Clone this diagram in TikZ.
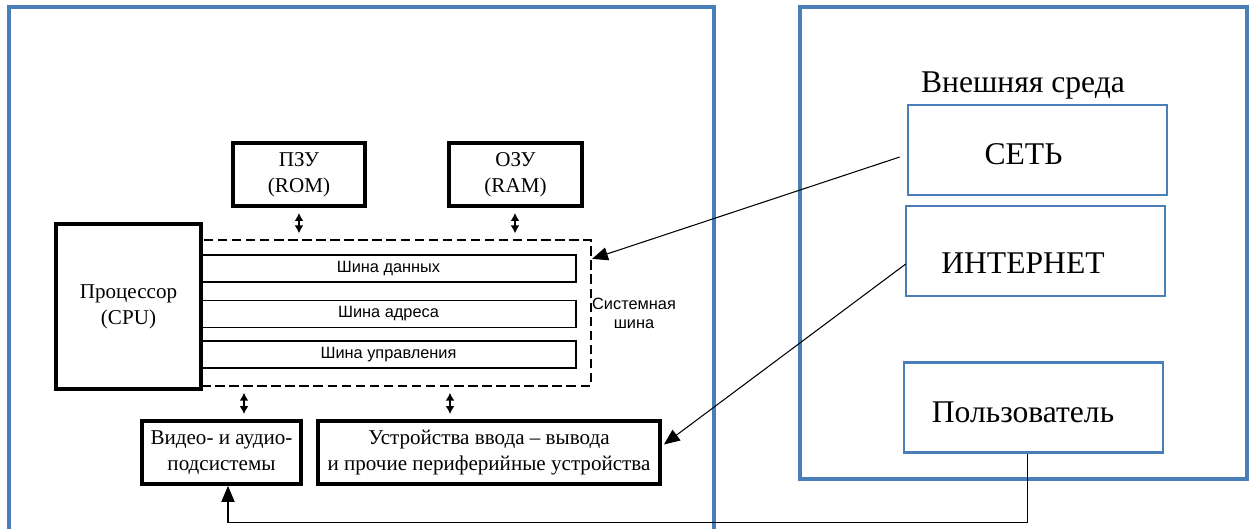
\documentclass[tikz,border=0pt]{standalone}
\usepackage{fontspec}
\setmainfont{Liberation Serif}
\setsansfont{Liberation Sans}
\usetikzlibrary{arrows.meta}
\definecolor{frameblue}{RGB}{74,126,187}

\begin{document}
\begin{tikzpicture}[x=0.02cm,y=-0.02cm]
\useasboundingbox (0,0) rectangle (1253,529);
\draw[frameblue,line width=1.8pt] (9,529) -- (9,7) -- (714,7) -- (714,529);
\draw[frameblue,line width=1.8pt] (800,7) rectangle (1247,479);

\node[draw,dashed,dash pattern=on 5.4pt off 2.6pt,line width=1.3pt,minimum width=7.8cm,minimum height=2.92cm] (bus) at (396,313) {};

\begin{scope}[every node/.style={draw,line width=1pt,font=\sffamily\fontsize{9.3}{10.8}\selectfont,minimum width=7.5cm,minimum height=0.54cm}]
    \node (data) at (388.5,268.5) {Шина данных};
    \node (addr) at (388.5,314) {Шина адреса};
    \node (ctrl) at (388.5,354.5) {Шина управления};
\end{scope}
\node[font=\sffamily\fontsize{9.3}{10.8}\selectfont,align=center] (sysbus) at (634,313) {Системная\\шина};

\begin{scope}[every node/.style={draw,line width=2.2pt,font=\fontsize{12}{14.7}\selectfont,align=center,inner sep=0pt}]
    \node[minimum width=2.9cm,minimum height=3.3cm] (CPU) at (128.5,306.5) {Процессор\\(CPU)};
    \node[minimum width=2.64cm,minimum height=1.26cm] (ROM) at (299,174.5) {ПЗУ\\(ROM)};
    \node[minimum width=2.66cm,minimum height=1.26cm] (RAM) at (515.5,174.5) {ОЗУ\\(RAM)};
    \node[minimum width=3.18cm,minimum height=1.26cm] (AV) at (221.5,452.5) {Видео- и аудио-\\подсистемы};
    \node[minimum width=6.84cm,minimum height=1.26cm] (IO) at (489,452.5) {Устройства ввода – вывода\\и прочие периферийные устройства};
\end{scope}

\begin{scope}[every edge/.style={draw,line width=1.4pt,{Latex[length=4.5pt,width=5pt]}-{Latex[length=4.5pt,width=5pt]},shorten <=0.1cm,shorten >=0.11cm}]
    \path (ROM) edge (ROM |- bus.north);
    \path ([xshift=-0.01cm]RAM.south) edge ([xshift=-0.01cm]RAM.south |- bus.north);
    \path ([shift={(22.5,0)}]AV.north) edge ([shift={(22.5,0)}]AV.north |- bus.south);
    \path ([shift={(-39,0)}]IO.north) edge ([shift={(-39,0)}]IO.north |- bus.south);
\end{scope}

\node[font=\fontsize{18}{21}\selectfont,anchor=base] (env) at (1023,92) {Внешняя среда};
\begin{scope}[every node/.style={draw=frameblue,line width=1.5pt,minimum width=5.18cm,minimum height=1.8cm}]
    \node (NET) at (1037.5,150) {};
    \node (INET) at (1035.5,251) {};
    \node (USER) at (1033.5,407.5) {};
\end{scope}
\begin{scope}[every node/.style={font=\fontsize{18}{21}\selectfont}]
    \node (nettext) at ([shift={(-14,4)}]NET.center) {СЕТЬ};
    \node (inettext) at ([shift={(-12.5,12)}]INET.center) {ИНТЕРНЕТ};
    \node (usertext) at ([shift={(-10.5,4.5)}]USER.center) {Пользователь};
\end{scope}

\begin{scope}[line width=0.6pt,-{Triangle[length=9pt,width=7.5pt]}]
    \draw ([shift={(-7,7)}]NET.west) -- ([shift={(0,20)}]bus.north east);
    \draw ([shift={(1,13)}]INET.west) -- ([shift={(2,-8)}]IO.east);
    \draw ([shift={(-6,0)}]USER.south) -- ++(0,69) -| ([shift={(6.5,0)}]AV.south);
\end{scope}
\end{tikzpicture}
\end{document}
